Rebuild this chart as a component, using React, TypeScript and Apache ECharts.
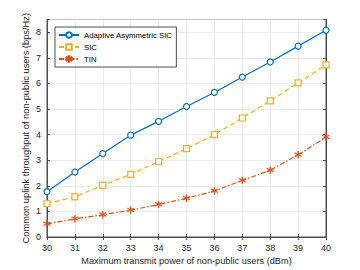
import React, { useEffect, useRef } from "react";
import * as echarts from "echarts";

const powers = ["30", "31", "32", "33", "34", "35", "36", "37", "38", "39", "40"];
const adaptive = [1.77, 2.54, 3.26, 3.98, 4.52, 5.1, 5.65, 6.25, 6.84, 7.46, 8.08];
const sic = [1.3, 1.57, 2.02, 2.45, 2.95, 3.45, 4.0, 4.65, 5.32, 6.02, 6.73];
const tin = [0.51, 0.71, 0.87, 1.05, 1.27, 1.51, 1.8, 2.21, 2.61, 3.21, 3.9];

const FONT = "Liberation Sans, Arial, sans-serif";
const ASTERISK =
  "path://M45,0 L55,0 L55,38 L88,19 L93,28 L60,47 L93,66 L88,75 L55,56 L55,100 L45,100 L45,56 L12,75 L7,66 L40,47 L7,28 L12,19 L45,38 Z";

export default function App() {
  const ref = useRef<HTMLDivElement>(null);
  useEffect(() => {
    if (!ref.current) return;
    const chart = echarts.init(ref.current, undefined, { renderer: "svg" });
    const axisColor = "#4d4d4d";
    const labelStyle = { color: "#262626", fontSize: 9, fontFamily: FONT };
    chart.setOption({
      animation: false,
      backgroundColor: "#ffffff",
      textStyle: { fontFamily: FONT },
      grid: {
        left: 47,
        right: 34,
        top: 19.5,
        bottom: 30,
        show: true,
        borderColor: axisColor,
        borderWidth: 1,
        backgroundColor: "transparent",
      },
      legend: {
        left: 55,
        top: 27,
        orient: "vertical",
        itemWidth: 20,
        itemHeight: 7,
        itemGap: 4,
        padding: [4, 4, 4, 3],
        backgroundColor: "#ffffff",
        borderColor: "#262626",
        borderWidth: 0.8,
        borderRadius: 0,
        textStyle: { fontSize: 7.8, color: "#000", fontFamily: FONT, padding: [0, 0, 0, 0] },
        data: ["Adaptive Asymmetric SIC", "SIC", "TIN"],
      },
      xAxis: [
        {
          type: "category",
          data: powers,
          boundaryGap: false,
          name: "Maximum transmit power of non-public users (dBm)",
          nameLocation: "middle",
          nameGap: 19,
          nameMoveOverlap: false,
          nameTextStyle: { fontSize: 9.2, color: "#262626", fontFamily: FONT },
          axisLine: { show: true, lineStyle: { color: axisColor } },
          axisTick: { show: true, inside: true, length: 3, lineStyle: { color: axisColor } },
          axisLabel: { ...labelStyle, margin: 6 },
          splitLine: { show: true, lineStyle: { color: "#e6e6e6", width: 0.8 } },
        },
        {
          type: "category",
          data: powers,
          boundaryGap: false,
          position: "top",
          axisLine: { show: true, lineStyle: { color: axisColor } },
          axisTick: { show: true, inside: true, length: 3, lineStyle: { color: axisColor } },
          axisLabel: { show: false },
          splitLine: { show: false },
        },
      ],
      yAxis: [
        {
          type: "value",
          min: 0,
          max: 8.5,
          interval: 1,
          name: "Common uplink throughput of non-public users (bps/Hz)",
          nameLocation: "middle",
          nameGap: 17,
          nameMoveOverlap: false,
          nameTextStyle: { fontSize: 9.3, color: "#262626", fontFamily: FONT },
          axisLine: { show: true, lineStyle: { color: axisColor } },
          axisTick: { show: true, inside: true, length: 3, lineStyle: { color: axisColor } },
          axisLabel: {
            ...labelStyle,
            margin: 6,
            formatter: (v: number) => (Number.isInteger(v) ? String(v) : ""),
          },
          splitLine: { show: true, lineStyle: { color: "#e6e6e6", width: 0.8 } },
        },
        {
          type: "value",
          min: 0,
          max: 8.5,
          interval: 1,
          position: "right",
          axisLine: { show: true, lineStyle: { color: axisColor } },
          axisTick: { show: true, inside: true, length: 3, lineStyle: { color: axisColor } },
          axisLabel: { show: false },
          splitLine: { show: false },
        },
      ],
      series: [
        {
          name: "Adaptive Asymmetric SIC",
          type: "line",
          data: adaptive,
          symbol: "circle",
          symbolSize: 6,
          showAllSymbol: true,
          itemStyle: { color: "#ffffff", borderColor: "#0072BD", borderWidth: 1.2 },
          lineStyle: { color: "#0072BD", width: 1.2 },
          color: "#0072BD",
        },
        {
          name: "SIC",
          type: "line",
          data: sic,
          symbol: "rect",
          symbolSize: 6,
          showAllSymbol: true,
          itemStyle: { color: "#ffffff", borderColor: "#EDB120", borderWidth: 1.2 },
          lineStyle: { color: "#EDB120", width: 1.2, type: [5, 3] },
          color: "#EDB120",
        },
        {
          name: "TIN",
          type: "line",
          data: tin,
          symbol: ASTERISK,
          symbolSize: 7,
          showAllSymbol: true,
          itemStyle: { color: "#D95319", borderColor: "#D95319", borderWidth: 0.5 },
          lineStyle: { color: "#D95319", width: 1.2, type: [5, 2, 1.5, 2] },
          color: "#D95319",
        },
      ],
    });
    return () => chart.dispose();
  }, []);
  return (
    <div
      ref={ref}
      style={{ position: "absolute", left: 0, top: 0, width: 360, height: 270 }}
    />
  );
}
